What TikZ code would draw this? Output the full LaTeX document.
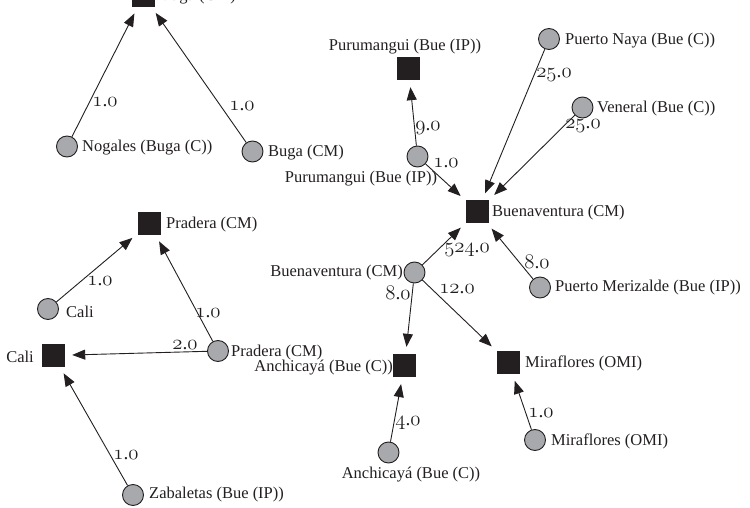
\documentclass[tikz,border=0pt]{standalone}
\usepackage{fontspec}
\setmainfont{Liberation Serif}
\usetikzlibrary{arrows.meta}
\definecolor{sqc}{HTML}{231F20}
\definecolor{grc}{HTML}{A7A9AC}
\newcommand{\osd}[1]{{\usefont{OML}{cmm}{m}{it}#1}}
\newcommand{\wnum}[2]{\osd{#1}.\osd{#2}}
\begin{document}
\begin{tikzpicture}[x=1pt,y=-1pt,
  hub/.style={rectangle, fill=sqc, minimum size=23pt, inner sep=0pt},
  src/.style={circle, draw=sqc, fill=grc, line width=0.9pt, minimum size=21pt, inner sep=0pt},
  txt/.style={font=\fontsize{16.5}{16.5}\selectfont, inner sep=0pt, text=sqc},
  wt/.style={font=\fontsize{19.5}{19.5}\selectfont, inner sep=0pt, text=sqc},
  link/.style={draw=sqc, line width=0.9pt, -{Triangle[length=13pt,width=10pt]}, shorten >=7pt}]
\useasboundingbox (0,0) rectangle (750,508);
% hubs (squares)
\node[hub] (bugaSq) at (143.5,-4.5) {};
\node[hub] (purSq) at (408.5,68.5) {};
\node[hub] (buenSq) at (477.5,211.5) {};
\node[hub] (anchSq) at (404.5,365.5) {};
\node[hub] (miraSq) at (508.5,362.5) {};
\node[hub] (praSq) at (149.5,223.5) {};
\node[hub] (caliSq) at (53.5,355.5) {};
% sources (circles)
\node[src] (nogC) at (67,146.5) {};
\node[src] (bugaC) at (252.5,151.5) {};
\node[src] (purC) at (417.5,156.5) {};
\node[src] (nayaC) at (549,39) {};
\node[src] (venC) at (582.5,107.5) {};
\node[src] (buenC) at (414.5,272.5) {};
\node[src] (merC) at (540,287.5) {};
\node[src] (anchC) at (388.5,452.5) {};
\node[src] (miraC) at (535,440) {};
\node[src] (caliC) at (48,309) {};
\node[src] (praC) at (218,351) {};
\node[src] (zabC) at (133,495) {};
% node texts
\node[txt, anchor=west] (tBugaSq) at (160,-3) {Buga (CM)};
\node[txt, anchor=west] (tNog) at (82,148) {Nogales (Buga (C))};
\node[txt, anchor=west] (tBugaC) at (268,153) {Buga (CM)};
\node[txt] (tPurSq) at (405,47) {Purumangui (Bue (IP))};
\node[txt, anchor=west] (tNaya) at (565,41) {Puerto Naya (Bue (C))};
\node[txt, anchor=west] (tVen) at (597,109) {Veneral (Bue (C))};
\node[txt] (tPurC) at (361,179) {Purumangui (Bue (IP))};
\node[txt, anchor=west] (tBuenSq) at (492,213) {Buenaventura (CM)};
\node[txt, anchor=east] (tBuenC) at (403,273) {Buenaventura (CM)};
\node[txt, anchor=west] (tMer) at (555,288) {Puerto Merizalde (Bue (IP))};
\node[txt, anchor=east] (tAnchSq) at (393,368) {Anchicayá (Bue (C))};
\node[txt, anchor=west] (tMiraSq) at (525,363) {Miraflores (OMI)};
\node[txt] (tAnchC) at (411,475) {Anchicayá (Bue (C))};
\node[txt, anchor=west] (tMiraC) at (551,441) {Miraflores (OMI)};
\node[txt, anchor=west] (tPraSq) at (166,225) {Pradera (CM)};
\node[txt, anchor=west] (tCaliC) at (66,312) {Cali};
\node[txt, anchor=east] (tCaliSq) at (34,357) {Cali};
\node[txt, anchor=west] (tPraC) at (231,353) {Pradera (CM)};
\node[txt, anchor=west] (tZab) at (149,495) {Zabaletas (Bue (IP))};
% connectors
\draw[link] (nogC) -- (bugaSq);
\draw[link] (bugaC) -- (bugaSq);
\draw[link] (purC) -- (purSq);
\draw[link] (purC) -- (buenSq);
\draw[link] (nayaC) -- (buenSq);
\draw[link] (venC) -- (buenSq);
\draw[link] (buenC) -- (buenSq);
\draw[link] (merC) -- (buenSq);
\draw[link] (buenC) -- (anchSq);
\draw[link] (buenC) -- (miraSq);
\draw[link] (anchC) -- (anchSq);
\draw[link] (miraC) -- (miraSq);
\draw[link] (caliC) -- (praSq);
\draw[link] (praC) -- (praSq);
\draw[link] (praC) -- (caliSq);
\draw[link] (zabC) -- (caliSq);
% weights
\node[wt] (w1) at (105,102) {\wnum{1}{0}};
\node[wt] (w2) at (242,106) {\wnum{1}{0}};
\node[wt] (w3) at (428,128) {\wnum{9}{0}};
\node[wt] (w4) at (446,163) {\wnum{1}{0}};
\node[wt] (w5) at (554,75) {\wnum{25}{0}};
\node[wt] (w6) at (583,126) {\wnum{25}{0}};
\node[wt] (w7) at (467,250) {\wnum{524}{0}};
\node[wt] (w8) at (537,262) {\wnum{8}{0}};
\node[wt] (w9) at (398,293) {\wnum{8}{0}};
\node[wt] (w10) at (457,289) {\wnum{12}{0}};
\node[wt] (w11) at (408,423) {\wnum{4}{0}};
\node[wt] (w12) at (541,413) {\wnum{1}{0}};
\node[wt] (w13) at (100,281) {\wnum{1}{0}};
\node[wt] (w14) at (208,313) {\wnum{1}{0}};
\node[wt] (w15) at (185,345) {\wnum{2}{0}};
\node[wt] (w16) at (126,455) {\wnum{1}{0}};
\end{tikzpicture}
\end{document}
